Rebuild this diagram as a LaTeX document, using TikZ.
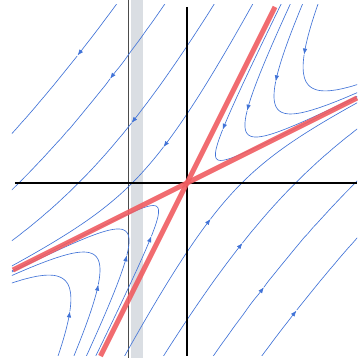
\documentclass[tikz,border=0pt]{standalone}
\usetikzlibrary{arrows.meta}
\definecolor{flowblue}{RGB}{65,115,215}
\definecolor{sepred}{RGB}{240,92,96}
\definecolor{bandgray}{RGB}{218,222,227}
\tikzset{
  flow/.style={flowblue, line width=0.65pt, smooth},
  flowtip/.style={-{Latex[length=6pt,width=4.5pt]}},
  axisline/.style={black, line width=1.2pt},
  sepline/.style={sepred, line width=5pt, opacity=0.9},
  guide/.style={black!70, line width=0.6pt}
}
% #1 sign of u, #2 sign of v, #3 K, #4 start, #5 arrow, #6 end (log of |u|)
\newcommand\trajline[6]{%
  \draw[flow,flowtip] plot[domain=#4:#5, samples=40]
    ({(#1)*2*exp(\x)+(#2)*(#3)*exp(-2*\x)},{(#1)*exp(\x)+(#2)*2*(#3)*exp(-2*\x)});
  \draw[flow] plot[domain=#5:#6, samples=60]
    ({(#1)*2*exp(\x)+(#2)*(#3)*exp(-2*\x)},{(#1)*exp(\x)+(#2)*2*(#3)*exp(-2*\x)});
}
\begin{document}
\begin{tikzpicture}[x=10pt,y=10pt]
\useasboundingbox (-18.7,-17.5) rectangle (17.0,18.3);
% gray band and thin vertical guide
\fill[bandgray] (-5.6,-17.5) rectangle (-4.4,18.3);
\coordinate (gtop) at (-5.9,18.3);
\coordinate (gbot) at (-5.9,-17.5);
\draw[guide] (gtop) -- (gbot);
% trajectories
\begin{scope}
\clip (-17.5,-17.2) rectangle (17.0,17.8);
% inner sector, upper right
\trajline{1}{1}{0.85}{-1.238}{-0.511}{2.303}
\trajline{1}{1}{7.2}{-0.1625}{0.470}{2.303}
\trajline{1}{1}{24.4}{0.445}{0.928}{2.303}
\trajline{1}{1}{58}{0.880}{1.261}{2.303}
% inner sector, lower left
\trajline{-1}{-1}{0.85}{-1.238}{-0.511}{2.303}
\trajline{-1}{-1}{7.2}{-0.1625}{0.470}{2.303}
\trajline{-1}{-1}{24.4}{0.445}{0.928}{2.303}
\trajline{-1}{-1}{58}{0.880}{1.261}{2.303}
% outer sector, upper left
\trajline{-1}{1}{24.4}{0}{1.019}{2.89}
\trajline{-1}{1}{190}{1.099}{1.740}{2.89}
\trajline{-1}{1}{705}{1.609}{2.152}{2.89}
\trajline{-1}{1}{1622}{2.079}{2.447}{2.89}
% outer sector, lower right
\trajline{1}{-1}{24.4}{0}{1.019}{2.89}
\trajline{1}{-1}{190}{1.099}{1.740}{2.89}
\trajline{1}{-1}{705}{1.609}{2.152}{2.89}
\trajline{1}{-1}{1622}{2.079}{2.447}{2.89}
\end{scope}
% axes
\coordinate (O) at (0,0);
\coordinate (xl) at (-17.2,0);
\coordinate (xr) at (17.0,0);
\coordinate (yt) at (0,17.6);
\coordinate (yb) at (0,-17.3);
\draw[axisline] (xl) -- (xr);
\draw[axisline] (yt) -- (yb);
% separatrices
\coordinate (s1) at (8.8,17.6);
\coordinate (s2) at (-8.65,-17.3);
\coordinate (h1) at (17.0,8.5);
\coordinate (h2) at (-17.4,-8.7);
\draw[sepline] (s1) -- (s2);
\draw[sepline] (h1) -- (h2);
\end{tikzpicture}
\end{document}
